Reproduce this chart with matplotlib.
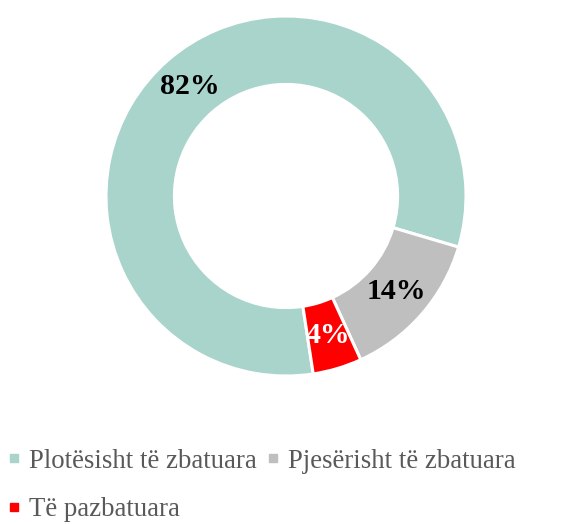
import matplotlib.pyplot as plt
from matplotlib.lines import Line2D

# Chart data
categories = ['Plotësisht të zbatuara', 'Pjesërisht të zbatuara', 'Të pazbatuara']
shares = [82.0, 13.6, 4.4]
colors = ['#A8D4CB', '#BFBFBF', '#FF0000']
label_colors = ['black', 'black', 'white']

W, H = 569, 524
fig = plt.figure(figsize=(W / 100, H / 100), dpi=100)

# donut centred at (286, 196) px, outer radius 180 px
cx, cy, r = 286, 196, 180
ax = fig.add_axes([(cx - r) / W, 1 - (cy + r) / H, 2 * r / W, 2 * r / H])

wedges, texts, autotexts = ax.pie(
    shares, colors=colors, startangle=278.7, counterclock=False,
    radius=1.0, autopct='%.0f%%', pctdistance=0.81,
    wedgeprops=dict(width=0.38, edgecolor='white', linewidth=2.2),
    textprops=dict(family='Liberation Serif', fontsize=21.5, fontweight='bold'))
for t, c in zip(autotexts, label_colors):
    t.set_color(c)
ax.set_xlim(-1, 1)
ax.set_ylim(-1, 1)
ax.set_aspect('equal')
ax.axis('off')

handles = [Line2D([], [], marker='s', linestyle='none', markersize=6,
                  markerfacecolor=c, markeredgecolor=c) for c in colors]
# legend fills row by row in the reference: reorder for column-major fill
order = [0, 2, 1]
leg = fig.legend([handles[i] for i in order], [categories[i] for i in order],
                 loc='upper left', bbox_to_anchor=(-11 / W, 1 - 430 / H),
                 ncol=2, frameon=False,
                 prop=dict(family='Liberation Serif', size=19.3),
                 handlelength=0.5, handletextpad=0.3, columnspacing=0.35,
                 labelspacing=0.88, borderpad=0.2)
for t in leg.get_texts():
    t.set_color('#595959')

fig.savefig('out.png', dpi=100)
